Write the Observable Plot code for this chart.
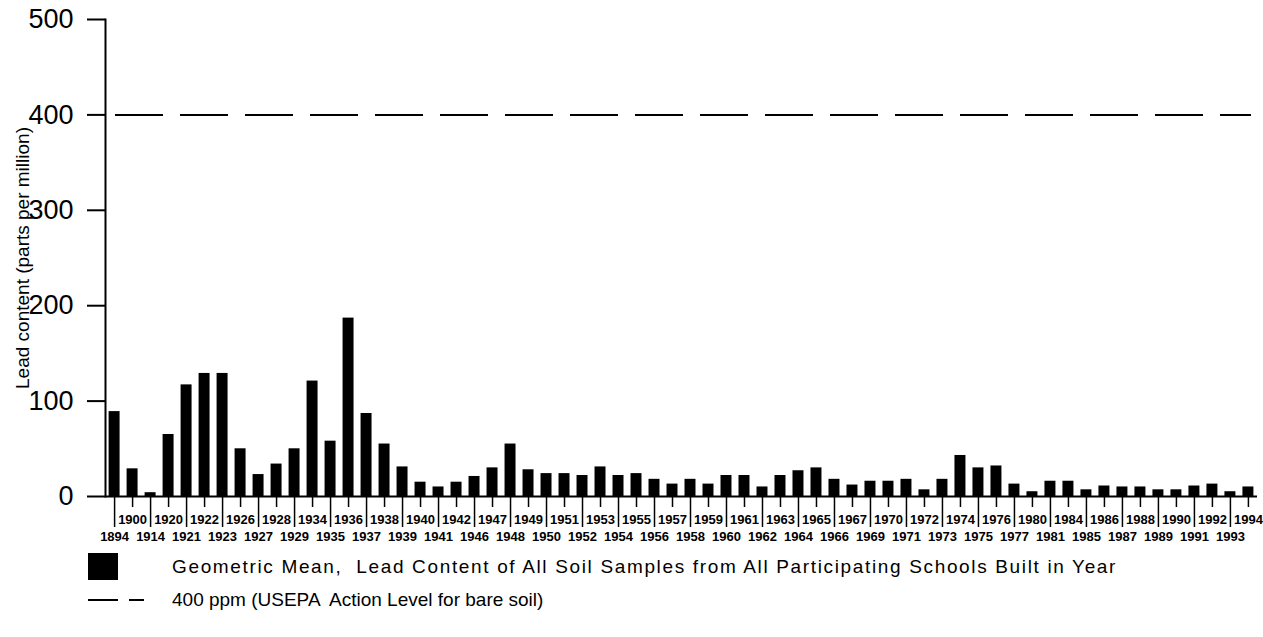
<!DOCTYPE html>
<html><head><meta charset="utf-8">
<script src="https://cdn.jsdelivr.net/npm/d3@7"></script>
<script src="https://cdn.jsdelivr.net/npm/@observablehq/plot@0.6"></script>
<style>
body{margin:0;background:#fff;}
#wrap{position:relative;width:1263px;height:637px;font-family:"Liberation Sans",Arial,sans-serif;color:#000;}
.leg{position:absolute;font-size:19px;line-height:20px;white-space:pre;}
</style></head><body><div id="wrap"></div>
<script>
const years = ["1894","1900","1914","1920","1921","1922","1923","1926","1927","1928","1929","1934","1935","1936","1937","1938","1939","1940","1941","1942","1946","1947","1948","1949","1950","1951","1952","1953","1954","1955","1956","1957","1958","1959","1960","1961","1962","1963","1964","1965","1966","1967","1969","1970","1971","1972","1973","1974","1975","1976","1977","1980","1981","1984","1985","1986","1987","1988","1989","1990","1991","1992","1993","1994"];
const leadPpm = [89,29,4,65,117,129,129,50,23,34,50,121,58,187,87,55,31,15,10,15,21,30,55,28,24,24,22,31,22,24,18,13,18,13,22,22,10,22,27,30,18,12,16,16,18,7,18,43,30,32,13,5,16,16,7,11,10,10,7,7,11,13,5,10];
const topRowYears = ["1900","1920","1922","1926","1928","1934","1936","1938","1940","1942","1947","1949","1951","1953","1955","1957","1959","1961","1963","1965","1967","1970","1972","1974","1976","1980","1984","1986","1988","1990","1992","1994"];
const bottomRowYears = ["1894","1914","1921","1923","1927","1929","1935","1937","1939","1941","1946","1948","1950","1952","1954","1956","1958","1960","1962","1964","1966","1969","1971","1973","1975","1977","1981","1985","1987","1989","1991","1993"];
const actionLevel = [400];
const yTicks = [0,100,200,300,400,500];
const yLabel = "Lead content (parts per million)";
const legendBarLabel = "Geometric Mean,  Lead Content of All Soil Samples from All Participating Schools Built in Year";
const legendLineLabel = "400 ppm (USEPA  Action Level for bare soil)";

const data = years.map((y, i) => ({year: y, value: leadPpm[i]}));
const font = "Liberation Sans, Arial, sans-serif";

const chart = Plot.plot({
  width: 1263, height: 548,
  marginTop: 19, marginBottom: 52, marginLeft: 105, marginRight: 6,
  style: {fontFamily: font, background: "white", color: "black"},
  x: {type: "band", domain: years, paddingInner: 0.39, paddingOuter: 0.2, align: 0.5, axis: null},
  y: {domain: [0, 500], axis: null},
  marks: [
    Plot.barY(data, {x: "year", y: "value", fill: "black"}),
    Plot.ruleY([0], {stroke: "black", strokeWidth: 2}),
    Plot.ruleY(actionLevel, {stroke: "black", strokeWidth: 2, strokeDasharray: "48,17", insetLeft: 10, insetRight: 6}),
    Plot.frame({anchor: "left", stroke: "black", strokeWidth: 2}),
    Plot.axisY({ticks: yTicks, tickSize: 18, tickPadding: 14, fontSize: 27, strokeWidth: 2, label: null}),
    Plot.axisX({ticks: topRowYears, tickSize: 11, tickPadding: 7, fontSize: 13, fontWeight: "bold", strokeWidth: 1.5, label: null}),
    Plot.axisX({ticks: bottomRowYears, tickSize: 31, tickPadding: 4, fontSize: 13, fontWeight: "bold", strokeWidth: 1.5, label: null}),
    Plot.text([yLabel], {frameAnchor: "left", textAnchor: "middle", rotate: -90, dx: -83, fontSize: 19, text: d => d, fill: "black"})
  ]
});

const wrap = document.getElementById("wrap");
wrap.appendChild(chart);

const sw = document.createElement("div");
sw.style.cssText = "position:absolute;left:88px;top:553px;width:30px;height:27px;background:#000;";
wrap.appendChild(sw);
const t1 = document.createElement("div");
t1.className = "leg"; t1.style.left = "172px"; t1.style.top = "557px"; t1.style.letterSpacing = "1.65px"; t1.textContent = legendBarLabel;
wrap.appendChild(t1);
const dl = document.createElementNS("http://www.w3.org/2000/svg", "svg");
dl.setAttribute("width", "60"); dl.setAttribute("height", "10");
dl.style.cssText = "position:absolute;left:88px;top:595px;";
dl.innerHTML = '<line x1="0" y1="5" x2="30" y2="5" stroke="#000" stroke-width="2"/><line x1="41" y1="5" x2="56" y2="5" stroke="#000" stroke-width="2"/>';
wrap.appendChild(dl);
const t2 = document.createElement("div");
t2.className = "leg"; t2.style.left = "172px"; t2.style.top = "590px"; t2.style.letterSpacing = "0px"; t2.textContent = legendLineLabel;
wrap.appendChild(t2);
</script></body></html>
